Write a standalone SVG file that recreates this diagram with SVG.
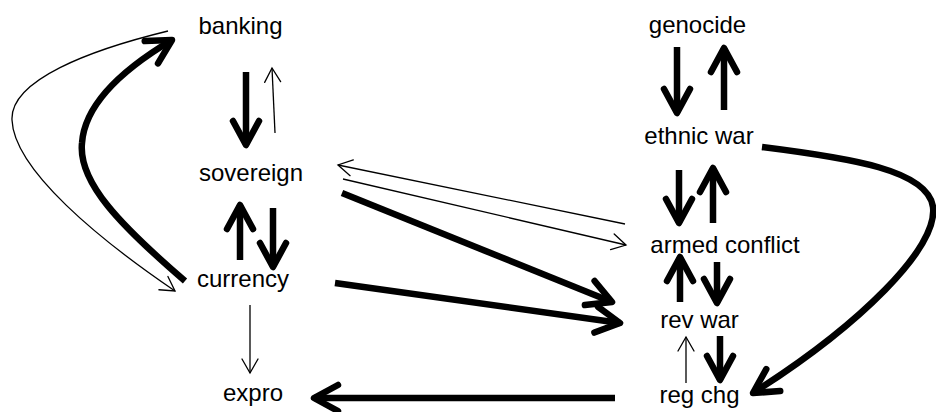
<svg xmlns="http://www.w3.org/2000/svg" width="936" height="412" viewBox="0 0 936 412">
<style>
  .lbl { font-family: "Liberation Sans", Arial, sans-serif; font-size: 24px; fill: #000; text-anchor: middle; }
  .thick { fill: none; stroke: #000; stroke-width: 6.5; stroke-linecap: butt; }
  .thin { fill: none; stroke: #000; stroke-width: 1.3; }
  .mk-thick { fill: none; stroke: #000; stroke-width: 6.5; stroke-linecap: round; stroke-linejoin: round; }
  .mk-thin { fill: none; stroke: #000; stroke-width: 1.3; stroke-linecap: round; stroke-linejoin: miter; }
</style>
<defs>
  <marker id="ah-thick" markerUnits="userSpaceOnUse" orient="auto" refX="0" refY="0" markerWidth="1" markerHeight="1" overflow="visible">
    <path class="mk-thick" d="M -24,-13 L 0,0 L -24,13"/>
  </marker>
  <marker id="ah-thin" markerUnits="userSpaceOnUse" orient="auto" refX="0" refY="0" markerWidth="1" markerHeight="1" overflow="visible">
    <path class="mk-thin" d="M -14,-8 L 0,0 L -14,8"/>
  </marker>
</defs>
<rect width="936" height="412" fill="#fff"/>

<g id="connectors">
  <!-- banking <-> sovereign -->
  <path class="thick" marker-end="url(#ah-thick)" d="M246,72 L246,145"/>
  <path class="thin" marker-end="url(#ah-thin)" d="M275,133 L272,68"/>
  <!-- currency -> banking (thick curve) -->
  <path class="thick" marker-end="url(#ah-thick)" d="M185,281 C120,225 78,182 82,143 C85,100 130,65 172,40"/>
  <!-- banking -> currency (thin curve) -->
  <path class="thin" marker-end="url(#ah-thin)" d="M168,31 C90,50 10,80 12,120 C14,170 100,240 175,291"/>
  <!-- sovereign <-> currency -->
  <path class="thick" marker-end="url(#ah-thick)" d="M240,260 L240,205"/>
  <path class="thick" marker-end="url(#ah-thick)" d="M273,208 L273,267"/>
  <!-- currency -> expro -->
  <path class="thin" marker-end="url(#ah-thin)" d="M250,305 L250,373"/>
  <!-- armed conflict <-> sovereign -->
  <path class="thin" marker-end="url(#ah-thin)" d="M625,224 L338,165"/>
  <path class="thin" marker-end="url(#ah-thin)" d="M343,179 L626,245"/>
  <!-- sovereign -> rev war, currency -> rev war -->
  <path class="thick" marker-end="url(#ah-thick)" d="M342,193 L612,302"/>
  <path class="thick" marker-end="url(#ah-thick)" d="M335,283 L620,323"/>
  <!-- reg chg -> expro -->
  <path class="thick" marker-end="url(#ah-thick)" d="M615,398 L314,398"/>
  <!-- genocide <-> ethnic war -->
  <path class="thick" marker-end="url(#ah-thick)" d="M677,47 L677,113"/>
  <path class="thick" marker-end="url(#ah-thick)" d="M724,110 L724,48"/>
  <!-- ethnic war <-> armed conflict -->
  <path class="thick" marker-end="url(#ah-thick)" d="M679,170 L679,223"/>
  <path class="thick" marker-end="url(#ah-thick)" d="M713,223 L713,168"/>
  <!-- armed conflict <-> rev war -->
  <path class="thick" marker-end="url(#ah-thick)" d="M680,302 L680,257"/>
  <path class="thick" marker-end="url(#ah-thick)" d="M717,262 L717,303"/>
  <!-- rev war <-> reg chg -->
  <path class="thick" marker-end="url(#ah-thick)" d="M720,336 L720,380"/>
  <path class="thin" marker-end="url(#ah-thin)" d="M686,383 L686,337"/>
  <!-- ethnic war -> reg chg (thick curve) -->
  <path class="thick" marker-end="url(#ah-thick)" d="M762,147 C850,158 928,170 933,207 C938,248 860,325 753,393"/>
</g>

<g id="banking"><text class="lbl" x="240.5" y="34">banking</text></g>
<g id="sovereign"><text class="lbl" x="251" y="181">sovereign</text></g>
<g id="currency"><text class="lbl" x="243" y="287">currency</text></g>
<g id="expro"><text class="lbl" x="253" y="401">expro</text></g>
<g id="genocide"><text class="lbl" x="697.5" y="33">genocide</text></g>
<g id="ethnic-war"><text class="lbl" x="699" y="144">ethnic war</text></g>
<g id="armed-conflict"><text class="lbl" x="725" y="253">armed conflict</text></g>
<g id="rev-war"><text class="lbl" x="699.5" y="328">rev war</text></g>
<g id="reg-chg"><text class="lbl" x="699.5" y="403">reg chg</text></g>
</svg>
